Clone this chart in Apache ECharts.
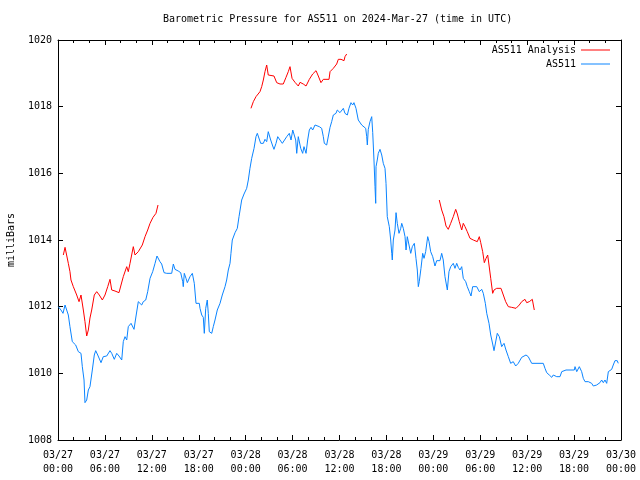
<!DOCTYPE html>
<html>
<head>
<meta charset="utf-8">
<script src="https://cdn.jsdelivr.net/npm/echarts@6/dist/echarts.min.js"></script>
<style>html,body{margin:0;padding:0;background:#fff}#c{width:640px;height:480px}</style>
</head>
<body>
<div id="c"></div>
<script>
// Hours since 2024-03-27 00:00 UTC, pressure in milliBars
var blueHours = [0.04,0.38,0.64,0.90,1.11,1.32,1.53,1.83,2.05,2.26,2.60,2.94,3.11,3.33,3.45,3.67,3.88,4.09,4.22,4.39,4.64,4.82,5.08,5.50,5.79,6.23,6.65,6.87,7.20,7.51,7.80,8.15,8.35,8.57,8.79,8.99,9.34,9.72,9.98,10.27,10.49,10.70,10.91,11.22,11.47,11.77,12.11,12.41,12.66,13.04,13.26,13.56,13.90,14.54,14.75,14.96,15.38,15.69,15.82,15.95,16.02,16.15,16.37,16.54,16.88,17.18,17.43,17.65,18.07,18.16,18.38,18.58,18.71,18.89,19.09,19.22,19.35,19.66,19.86,20.08,20.37,20.72,21.01,21.36,21.57,21.78,22.00,22.12,22.29,22.42,22.64,22.93,23.15,23.49,23.79,24.13,24.34,24.55,24.77,25.07,25.32,25.49,25.74,25.92,26.26,26.47,26.69,26.89,27.02,27.20,27.46,27.62,27.88,28.10,28.39,28.69,28.94,29.25,29.58,29.80,30.02,30.18,30.40,30.53,30.73,30.95,31.04,31.29,31.46,31.72,31.93,32.14,32.36,32.57,32.87,33.08,33.42,33.72,33.93,34.06,34.36,34.57,34.79,35.00,35.21,35.55,35.72,36.06,36.49,36.70,37.00,37.21,37.47,37.69,37.85,38.11,38.40,38.62,38.84,39.04,39.35,39.48,39.56,39.68,39.90,40.12,40.25,40.41,40.54,40.63,40.67,40.83,40.96,41.18,41.40,41.60,41.82,41.95,42.11,42.37,42.55,42.68,42.75,42.88,43.10,43.23,43.39,43.61,43.83,43.96,44.16,44.38,44.51,44.67,44.89,45.11,45.31,45.57,45.78,45.95,46.08,46.20,46.42,46.64,46.81,47.02,47.28,47.45,47.66,47.92,48.21,48.43,48.85,49.07,49.27,49.49,49.79,50.00,50.22,50.55,50.77,50.99,51.19,51.41,51.63,51.83,52.14,52.34,52.60,52.82,53.03,53.55,53.88,54.19,54.39,54.65,54.83,55.12,55.34,55.59,55.76,56.01,56.18,56.44,56.74,57.04,57.29,57.59,57.89,58.22,58.53,58.86,59.30,59.50,59.85,59.94,60.14,60.36,60.58,62.06,62.28,62.50,62.83,63.14,63.34,63.56,63.78,64.20,64.42,64.62,64.97,66.03,66.12,66.34,66.54,66.67,66.97,67.18,67.40,67.61,67.82,68.04,68.25,68.46,68.68,68.89,69.10,69.31,69.53,69.74,69.95,70.17,70.38,70.59,70.81,71.01,71.23,71.52,71.65];
var blueValues = [1012.0,1011.9,1011.8,1012.05,1012.1,1011.75,1011.4,1010.95,1011.0,1010.85,1010.65,1010.6,1010.2,1009.8,1009.12,1009.2,1009.5,1009.6,1009.55,1010.1,1010.55,1010.68,1010.55,1010.32,1010.5,1010.52,1010.68,1010.6,1010.42,1010.6,1010.52,1010.4,1010.95,1011.1,1011.0,1011.4,1011.5,1011.32,1011.72,1012.15,1012.18,1012.05,1012.15,1012.2,1012.45,1012.85,1013.05,1013.3,1013.52,1013.35,1013.28,1013.02,1013.0,1013.0,1013.28,1013.12,1013.07,1013.02,1013.07,1012.75,1012.6,1013.0,1012.85,1012.72,1012.9,1013.0,1012.7,1012.1,1012.1,1011.95,1011.75,1011.68,1011.2,1011.95,1012.2,1011.8,1011.25,1011.2,1011.4,1011.6,1011.9,1012.1,1012.35,1012.6,1012.8,1013.1,1013.3,1013.6,1014.0,1014.05,1014.22,1014.35,1014.7,1015.2,1015.38,1015.55,1015.8,1016.15,1016.45,1016.75,1017.1,1017.2,1017.2,1016.9,1016.9,1017.02,1016.95,1017.25,1017.3,1017.0,1016.82,1016.72,1016.9,1017.1,1017.0,1016.9,1016.95,1017.1,1017.2,1017.0,1017.3,1017.32,1017.0,1016.6,1017.1,1017.1,1016.75,1016.6,1016.8,1016.6,1017.0,1017.3,1017.38,1017.3,1017.45,1017.5,1017.4,1017.35,1017.1,1016.9,1016.85,1016.8,1017.38,1017.55,1017.75,1017.8,1017.9,1017.82,1017.95,1017.8,1017.75,1017.95,1018.12,1018.05,1018.12,1017.95,1017.6,1017.55,1017.45,1017.5,1017.35,1017.1,1016.85,1017.32,1017.55,1017.7,1017.22,1016.4,1015.6,1015.1,1016.2,1016.4,1016.6,1016.72,1016.55,1016.3,1016.15,1015.7,1014.7,1014.4,1014.0,1013.6,1013.4,1014.0,1014.3,1014.82,1014.5,1014.2,1014.35,1014.5,1014.35,1014.1,1013.7,1014.1,1013.85,1013.6,1013.8,1013.9,1013.45,1013.1,1012.6,1012.75,1013.15,1013.6,1013.45,1013.65,1014.1,1013.95,1013.65,1013.5,1013.22,1013.38,1013.38,1013.6,1013.4,1012.9,1012.5,1013.05,1013.2,1013.3,1013.15,1013.3,1013.18,1013.1,1013.2,1012.85,1012.75,1012.6,1012.45,1012.32,1012.6,1012.6,1012.45,1012.52,1012.4,1012.1,1011.8,1011.5,1011.15,1010.88,1010.68,1010.68,1011.2,1011.1,1010.8,1010.9,1010.7,1010.5,1010.3,1010.35,1010.22,1010.3,1010.48,1010.52,1010.55,1010.6,1010.5,1010.4,1010.3,1010.3,1010.15,1010.02,1009.95,1009.88,1009.95,1010.0,1009.9,1009.9,1010.05,1010.0,1010.1,1010.1,1010.2,1010.05,1010.0,1010.2,1010.05,1009.85,1009.75,1009.7,1009.75,1009.78,1009.7,1009.62,1009.58,1009.65,1009.7,1009.72,1009.8,1009.72,1009.8,1009.7,1010.05,1010.1,1010.12,1010.25,1010.38,1010.38,1010.3];

// null values mark the gaps between analysis segments
var redHours = [0.68,0.90,1.32,1.53,1.66,1.96,2.39,2.69,2.94,3.24,3.45,3.67,3.88,4.09,4.31,4.64,4.95,5.28,5.67,6.01,6.36,6.65,6.87,7.29,7.80,8.06,8.35,8.79,8.99,9.21,9.63,9.85,10.27,10.78,11.13,11.47,11.77,12.15,12.53,12.79,
  18.0,
  24.68,24.98,25.32,25.83,26.05,26.26,26.47,26.69,26.89,27.11,27.62,27.97,28.39,28.81,29.16,29.45,29.67,29.93,30.31,30.73,30.95,31.37,31.72,32.14,32.57,33.00,33.29,33.63,33.93,34.66,34.79,35.21,35.64,35.85,36.19,36.58,36.70,36.92,
  43.0,
  48.76,49.07,49.36,49.62,49.91,50.22,50.55,50.86,51.07,51.32,51.63,51.83,52.05,52.34,52.69,53.11,53.62,53.88,54.06,54.31,54.52,54.74,54.95,55.12,55.34,55.59,55.76,56.10,56.65,56.95,57.25,57.59,58.02,58.57,58.99,59.30,59.72,59.94,60.27,60.66,60.79,60.91];
var redValues = [1013.55,1013.78,1013.3,1013.05,1012.8,1012.6,1012.35,1012.15,1012.35,1011.9,1011.55,1011.12,1011.3,1011.66,1011.9,1012.35,1012.45,1012.35,1012.2,1012.35,1012.6,1012.82,1012.5,1012.47,1012.42,1012.65,1012.9,1013.2,1013.05,1013.3,1013.8,1013.55,1013.65,1013.85,1014.1,1014.3,1014.5,1014.68,1014.8,1015.05,
  null,
  1017.95,1018.15,1018.3,1018.45,1018.6,1018.8,1019.05,1019.25,1018.95,1018.92,1018.92,1018.72,1018.68,1018.68,1018.88,1019.05,1019.2,1018.85,1018.73,1018.62,1018.73,1018.68,1018.62,1018.82,1018.98,1019.08,1018.92,1018.72,1018.82,1018.82,1019.05,1019.15,1019.28,1019.42,1019.42,1019.38,1019.5,1019.58,
  null,
  1015.2,1014.9,1014.7,1014.42,1014.32,1014.5,1014.7,1014.92,1014.78,1014.55,1014.3,1014.5,1014.4,1014.25,1014.05,1014.0,1013.95,1014.1,1013.92,1013.65,1013.32,1013.45,1013.55,1013.25,1012.85,1012.4,1012.5,1012.55,1012.55,1012.35,1012.15,1012.0,1011.98,1011.95,1012.05,1012.15,1012.22,1012.12,1012.15,1012.22,1012.05,1011.9];

var xTickLabels = ['03/27\n00:00','03/27\n06:00','03/27\n12:00','03/27\n18:00','03/28\n00:00','03/28\n06:00','03/28\n12:00','03/28\n18:00','03/29\n00:00','03/29\n06:00','03/29\n12:00','03/29\n18:00','03/30\n00:00'];
var yTicks = ['1008','1010','1012','1014','1016','1018','1020'];
var seriesNames = ['AS511 Analysis','AS511'];
var titleText = 'Barometric Pressure for AS511 on 2024-Mar-27 (time in UTC)';
var yName = 'milliBars';

function pairs(h, v){ return h.map(function(x,i){ return [x, v[i]]; }); }

var FONT = 'DejaVu Sans Mono';
var chart = echarts.init(document.getElementById('c'), null, {renderer:'canvas'});
var xCommon = {
  type:'value', min:0, max:72, interval:6,
  axisLine:{show:true, onZero:false, lineStyle:{color:'#000', width:1}},
  axisTick:{show:true, inside:true, length:5, lineStyle:{color:'#000'}},
  minorTick:{show:true, splitNumber:3, length:3, lineStyle:{color:'#000'}},
  splitLine:{show:false}, minorSplitLine:{show:false}
};
var yCommon = {
  type:'value', min:1008, max:1020, interval:2,
  axisLine:{show:true, onZero:false, lineStyle:{color:'#000', width:1}},
  axisTick:{show:true, inside:true, length:5, lineStyle:{color:'#000'}},
  splitLine:{show:false}
};
var legendCommon = {right:25, align:'right', icon:'rect', itemWidth:29, itemHeight:1,
  textStyle:{fontFamily:FONT, fontSize:10, color:'#000'}};
chart.setOption({
  animation:false,
  backgroundColor:'#fff',
  title:{text:titleText, left:163, top:14, padding:0, textStyle:{fontFamily:FONT, fontSize:10, fontWeight:'normal', color:'#000'}},
  legend:[
    Object.assign({data:[seriesNames[0]], top:40}, legendCommon),
    Object.assign({data:[seriesNames[1]], top:54}, legendCommon)
  ],
  grid:{left:58, right:19, top:40, bottom:40, containLabel:false, outerBoundsMode:'none'},
  xAxis:[
    Object.assign({}, xCommon, {position:'bottom', axisLabel:{show:true, margin:8, lineHeight:14, fontFamily:FONT, fontSize:10, color:'#000',
      formatter:function(v){ return xTickLabels[Math.round(v/6)]; }}}),
    Object.assign({}, xCommon, {position:'top', axisLabel:{show:false}})
  ],
  yAxis:[
    Object.assign({}, yCommon, {position:'left', name:yName, nameLocation:'middle', nameRotate:90, nameGap:42,
      nameTextStyle:{fontFamily:FONT, fontSize:10, color:'#000'},
      axisLabel:{show:true, margin:6, fontFamily:FONT, fontSize:10, color:'#000',
      formatter:function(v){ return yTicks[Math.round((v-1008)/2)]; }}}),
    Object.assign({}, yCommon, {position:'right', axisLabel:{show:false}})
  ],
  series:[
    {name:seriesNames[0], type:'line', symbol:'none', connectNulls:false, data:pairs(redHours, redValues),
      lineStyle:{color:'#ff0000', width:1}, itemStyle:{color:'#ff0000'}},
    {name:seriesNames[1], type:'line', symbol:'none', data:pairs(blueHours, blueValues),
      lineStyle:{color:'#0a84ff', width:1}, itemStyle:{color:'#0a84ff'}}
  ]
});
</script>
</body>
</html>
